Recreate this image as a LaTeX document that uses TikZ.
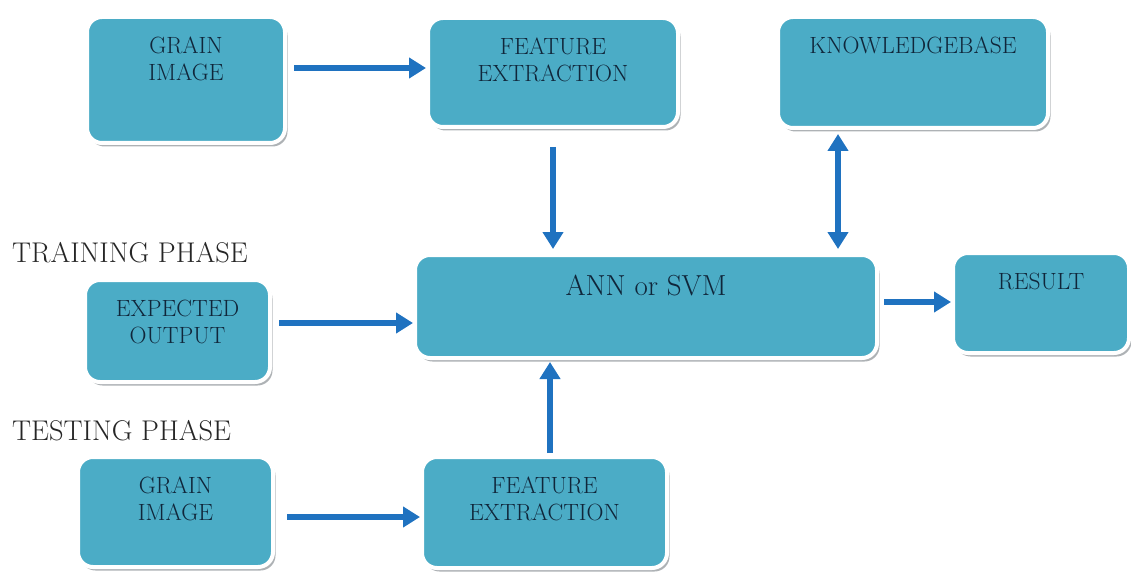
\documentclass[tikz,border=0pt]{standalone}
\usetikzlibrary{arrows.meta,shadows}
\definecolor{boxfill}{HTML}{4BACC6}
\definecolor{arrowblue}{HTML}{1F72C0}
\definecolor{boxtext}{HTML}{10263A}
\definecolor{shadowgray}{HTML}{9A9FA3}
\tikzset{
  blk/.style={rectangle, rounded corners=15pt, fill=boxfill, draw=white,
    line width=4pt, inner sep=0pt,
    drop shadow={shadow xshift=2.5pt, shadow yshift=-3.5pt, fill=shadowgray, opacity=0.8}},
  btxt/.style={font=\rmfamily\fontsize{23.5}{27}\selectfont, text=boxtext, align=center,
    anchor=north, inner sep=0pt, yshift=-22pt},
  bigtxt/.style={font=\rmfamily\fontsize{29}{32}\selectfont, text=boxtext},
  phase/.style={font=\rmfamily\fontsize{28.5}{32}\selectfont, text=black!85, anchor=base west, inner sep=0pt},
  arr/.style={draw=arrowblue, line width=6pt, -{Triangle[width=20pt,length=17pt]}},
  darr/.style={draw=arrowblue, line width=6pt, {Triangle[width=20pt,length=17pt]}-{Triangle[width=20pt,length=17pt]}},
}
\begin{document}
\begin{tikzpicture}[x=1pt,y=-1pt]
\useasboundingbox (0,0) rectangle (1131,572);

% boxes
\node[blk, minimum width=198pt, minimum height=126pt] (gi1) at (186,80) {};
\node[blk, minimum width=250pt, minimum height=109pt] (fe1) at (553,72.5) {};
\node[blk, minimum width=270pt, minimum height=111pt] (kb) at (913,72.5) {};
\node[blk, minimum width=462pt, minimum height=103pt] (ann) at (646,306.5) {};
\node[blk, minimum width=185pt, minimum height=102pt] (eo) at (177.5,331) {};
\node[blk, minimum width=176pt, minimum height=100pt] (res) at (1041,303) {};
\node[blk, minimum width=195pt, minimum height=110pt] (gi2) at (175.5,512) {};
\node[blk, minimum width=245pt, minimum height=111pt] (fe2) at (544.5,512.5) {};

% box texts
\node[btxt] (gi1t) at (gi1.north) {GRAIN\\IMAGE};
\node[btxt] (fe1t) at (fe1.north) {FEATURE\\EXTRACTION};
\node[btxt] (kbt) at (kb.north) {KNOWLEDGEBASE};
\node[btxt, bigtxt] (annt) at (ann.north) {ANN or SVM};
\node[btxt] (eot) at (eo.north) {EXPECTED\\OUTPUT};
\node[btxt] (rest) at (res.north) {RESULT};
\node[btxt] (gi2t) at (gi2.north) {GRAIN\\IMAGE};
\node[btxt] (fe2t) at (fe2.north) {FEATURE\\EXTRACTION};

% phase labels
\node[phase] (train) at (12,262) {TRAINING PHASE};
\node[phase] (test) at (12,440) {TESTING PHASE};

% connectors
\draw[arr] ([xshift=7pt,yshift=12pt]gi1.east) -- ([yshift=12pt]gi1.east -| fe1.west);
\draw[arr, shorten >=4pt] ([yshift=-18pt]fe1.south) -- (fe1.south |- ann.north);
\draw[darr, shorten <=4pt, shorten >=4pt] ([xshift=-75pt]kb.south) -- ([xshift=-75pt]kb.south |- ann.north);
\draw[arr] ([xshift=7pt,yshift=8pt]eo.east) -- ([yshift=8pt]eo.east -| ann.west);
\draw[arr] ([xshift=5pt,yshift=4.5pt]ann.east) -- ([yshift=4.5pt]ann.east -| res.west);
\draw[arr, shorten >=2pt] ([xshift=5.5pt,yshift=2pt]fe2.north) -- ([xshift=5.5pt]fe2.north |- ann.south);
\draw[arr] ([xshift=12pt,yshift=-5pt]gi2.east) -- ([yshift=-5pt]gi2.east -| fe2.west);
\end{tikzpicture}
\end{document}
